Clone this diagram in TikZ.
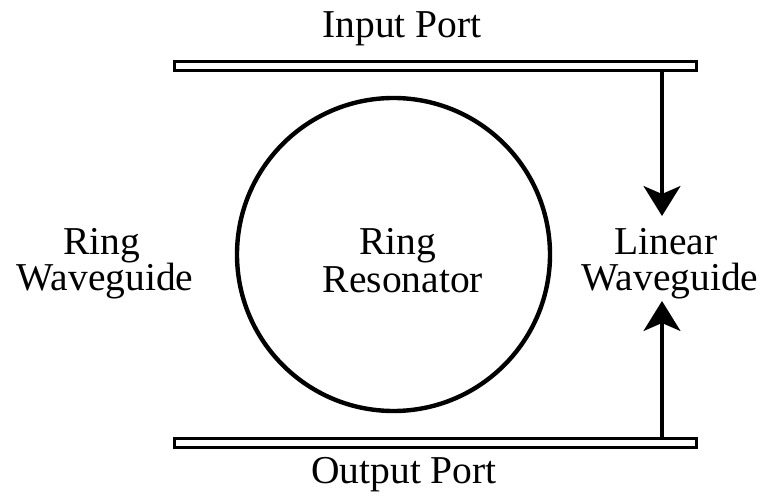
\documentclass[tikz,border=0pt]{standalone}
\usepackage{fontspec}
\setmainfont{Liberation Serif}
\usetikzlibrary{arrows.meta}
\begin{document}
\begin{tikzpicture}[x=1pt,y=-1pt,
  lbl/.style={anchor=base,inner sep=0pt,font=\fontsize{39.5}{37}\selectfont},
  guide/.style={draw=black,line width=3pt,fill=white},
  flow/.style={line width=3.2pt,-{Stealth[length=30pt,width=37pt,inset=8pt]}}]
\useasboundingbox (0,0) rectangle (764,497);
% waveguides
\draw[guide] (174.5,61.5) rectangle (696.5,70.5);
\draw[guide] (174.5,438.5) rectangle (696.5,447.5);
\coordinate (topbar) at (662,72);
\coordinate (botbar) at (662,437);
\coordinate (toptip) at (662,216);
\coordinate (bottip) at (662,301);
% ring
\node[draw=black,line width=4.4pt,circle,minimum size=313pt,inner sep=0pt] (ring) at (393.5,254.5) {};
% arrows
\draw[flow] (topbar) -- (toptip);
\draw[flow] (botbar) -- (bottip);
% labels
\node[lbl] (inport) at (402,38) {Input Port};
\node[lbl] (outport) at (404,483) {Output Port};
\node[lbl] (rwg1) at (102,255) {Ring};
\node[lbl] (rwg2) at (105,291) {Waveguide};
\node[lbl] (rr1) at (398,255) {Ring};
\node[lbl] (rr2) at (403,293) {Resonator};
\node[lbl] (lwg1) at (666,255) {Linear};
\node[lbl] (lwg2) at (670,291) {Waveguide};
\end{tikzpicture}
\end{document}
